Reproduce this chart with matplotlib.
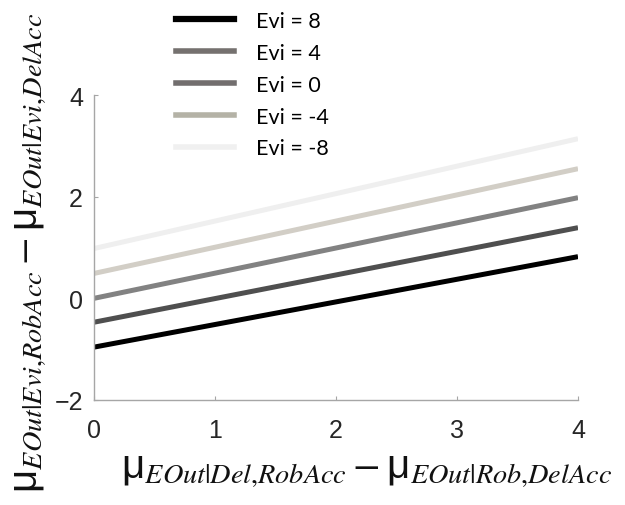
import numpy as np
import matplotlib
matplotlib.use('Agg')
import matplotlib.pyplot as plt
from matplotlib.lines import Line2D

# values
x_range = [0, 4]
evi_labels = ['Evi = 8', 'Evi = 4', 'Evi = 0', 'Evi = -4', 'Evi = -8']
start_vals = [-0.96, -0.47, 0.0, 0.49, 0.98]
end_vals = [0.82, 1.39, 1.98, 2.55, 3.14]

line_colors = ['#000000', '#4f4f4f', '#828282', '#d2cec6', '#efefef']
legend_colors = ['#000000', '#75716f', '#726e6e', '#b4b2a6', '#f0f0f0']

plt.rcParams['font.family'] = ['Liberation Sans', 'DejaVu Sans']
plt.rcParams['mathtext.fontset'] = 'stix'

W, H = 625, 506
fig = plt.figure(figsize=(W / 100, H / 100), dpi=100)
ax = fig.add_axes([94 / W, 1 - 401 / H, (578 - 94) / W, (401 - 96) / H])

for y0, y1, c in zip(start_vals, end_vals, line_colors):
  ax.plot(x_range, [y0, y1], color=c, linewidth=3.6, solid_capstyle='butt')

ax.set_xlim(0, 4)
ax.set_ylim(-2, 4)
ax.set_xticks([0, 1, 2, 3, 4])
ax.set_yticks([-2, 0, 2, 4])
for s in ['top', 'right']:
  ax.spines[s].set_visible(False)
for s in ['left', 'bottom']:
  ax.spines[s].set_color('#a6a6a6')
  ax.spines[s].set_linewidth(1.0)
ax.tick_params(axis='both', direction='in', length=3, color='#a6a6a6',
               labelsize=18, labelcolor='#262626')
ax.tick_params(axis='x', pad=13)
ax.tick_params(axis='y', pad=8)

fig.text(367 / W, 1 - 471 / H,
         r'$\mathregular{μ}_{EOut|Del{,}RobAcc} - \mathregular{μ}_{EOut|Rob{,}DelAcc}$',
         ha='center', va='center', fontsize=29, color='#111111')
fig.text(30 / W, 1 - 253 / H,
         r'$\mathregular{μ}_{EOut|Evi{,}RobAcc} - \mathregular{μ}_{EOut|Evi{,}DelAcc}$',
         ha='center', va='center', rotation=90, fontsize=29, color='#111111')

handles = [Line2D([], [], color=c, linewidth=4.5 if i == 0 else 4.0)
           for i, c in enumerate(legend_colors)]
fig.legend(handles, evi_labels, loc='upper left',
           bbox_to_anchor=(176 / W, 1 - 12 / H), bbox_transform=fig.transFigure,
           frameon=False, borderpad=0, borderaxespad=0,
           handlelength=2.7, handletextpad=1.0, labelspacing=0.55,
           prop={'family': ['Lato', 'DejaVu Sans'], 'size': 15.5})

fig.savefig('out.png', dpi=100)
